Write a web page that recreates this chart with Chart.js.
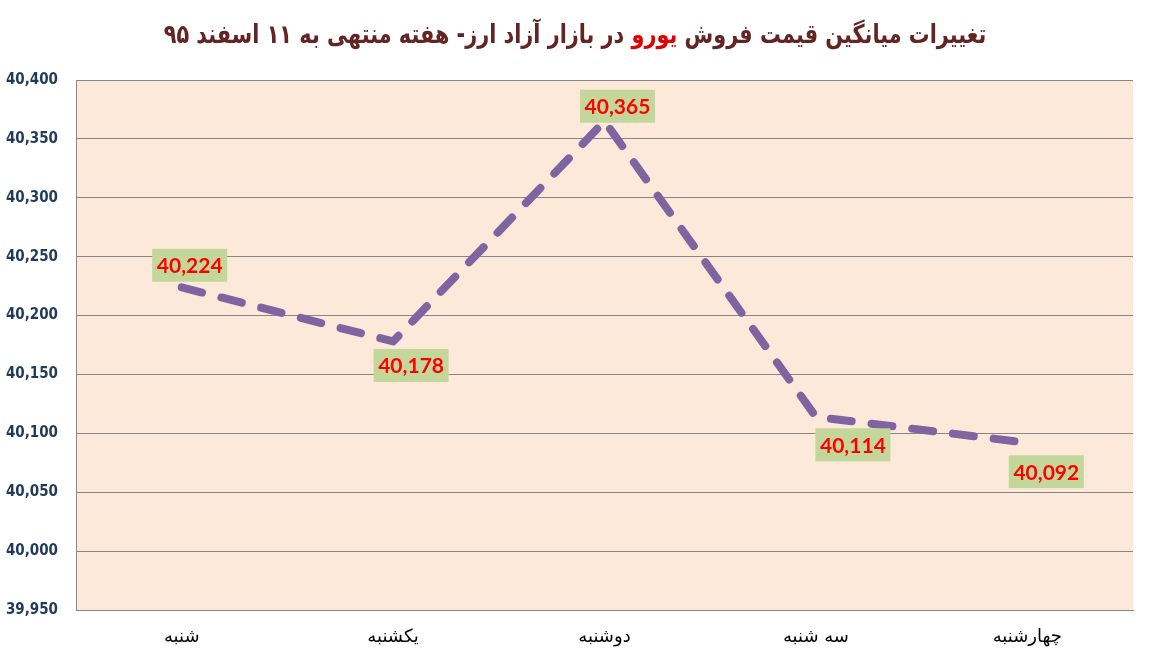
<!DOCTYPE html>
<html>
<head>
<meta charset="utf-8">
<script src="https://cdn.jsdelivr.net/npm/chart.js@4/dist/chart.umd.min.js"></script>
<style>
    html, body { margin: 0; padding: 0; background: #ffffff; }
    #wrap { position: relative; width: 1149px; height: 663px; }
    #title {
        position: absolute; left: 0; top: 19px; width: 1149px;
        text-align: center; direction: rtl;
        font-family: "DejaVu Sans", sans-serif; font-weight: bold; font-size: 26px;
        color: #632523;
        transform: scaleX(0.8); transform-origin: 577px 0;
    }
    #title .hl { color: #e00000; }
</style>
</head>
<body>
<div id="wrap">
    <div id="title">تغییرات میانگین قیمت فروش <span class="hl">یورو</span> در بازار آزاد ارز- هفته منتهی به ۱۱ اسفند ۹۵</div>
    <canvas id="chartEuro" width="1149" height="663"></canvas>
</div>
<script>
var days = ["شنبه", "یکشنبه", "دوشنبه", "سه شنبه", "چهارشنبه"];
var euroPrice = [40224, 40178, 40365, 40114, 40092];
var yMin = 39950;
var yMax = 40400;
var yStep = 50;

// label box offsets from each point (px)
var labelShift = [[8, -22], [18, 24], [13, -15], [37, 28], [19, 29]];

var fmt = function(v) {
    return v.toLocaleString('en-US');
};

var plotBg = {
    id: 'plotBg',
    beforeDraw: function(chart) {
        var a = chart.chartArea;
        var ctx = chart.ctx;
        ctx.save();
        ctx.fillStyle = '#fde9d9';
        ctx.fillRect(a.left, a.top, a.right - a.left, a.bottom - a.top);
        ctx.restore();
    }
};

var valueBoxes = {
    id: 'valueBoxes',
    afterDatasetsDraw: function(chart) {
        var ctx = chart.ctx;
        var meta = chart.getDatasetMeta(0);
        ctx.save();
        ctx.font = 'bold 21px Lato, "Open Sans", sans-serif';
        ctx.textAlign = 'center';
        ctx.textBaseline = 'middle';
        meta.data.forEach(function(pt, i) {
            var txt = fmt(chart.data.datasets[0].data[i]);
            var cx = pt.x + labelShift[i][0];
            var cy = pt.y + labelShift[i][1];
            var w = 75, h = 33;
            ctx.fillStyle = '#c4d79b';
            ctx.fillRect(cx - w / 2, cy - h / 2, w, h);
            ctx.fillStyle = '#ff0000';
            ctx.fillText(txt, cx, cy + 1);
        });
        ctx.restore();
    }
};

var chartEuro = new Chart(document.getElementById("chartEuro"), {
    type: 'line',
    data: {
        labels: days,
        datasets: [{
            label: "یورو",
            data: euroPrice,
            borderColor: '#8064a2',
            borderWidth: 8,
            borderDash: [21, 20],
            borderCapStyle: 'round',
            borderJoinStyle: 'round',
            pointRadius: 0,
            tension: 0,
            fill: false
        }]
    },
    options: {
        responsive: false,
        animation: false,
        layout: {
            padding: { top: 80, right: 16, bottom: 0, left: 0 }
        },
        plugins: {
            legend: { display: false },
            title: { display: false },
            tooltip: { enabled: false }
        },
        scales: {
            x: {
                offset: true,
                grid: { display: false, drawTicks: false },
                border: { display: true, color: '#868686', width: 1 },
                ticks: {
                    padding: 17,
                    color: '#000000',
                    font: { family: '"DejaVu Sans", sans-serif', size: 18 }
                },
                afterFit: function(scale) { scale.height = 53; }
            },
            y: {
                min: yMin,
                max: yMax,
                grid: { color: '#868686', lineWidth: 1, drawTicks: false },
                border: { display: true, color: '#868686', width: 1 },
                ticks: {
                    stepSize: yStep,
                    padding: 18,
                    color: '#1f3a5c',
                    font: { family: '"DejaVu Sans Condensed", "DejaVu Sans", sans-serif', size: 15, weight: 'bold' },
                    callback: function(v) { return fmt(v); }
                },
                afterFit: function(scale) { scale.width = 76; }
            }
        }
    },
    plugins: [plotBg, valueBoxes]
});
</script>
</body>
</html>
